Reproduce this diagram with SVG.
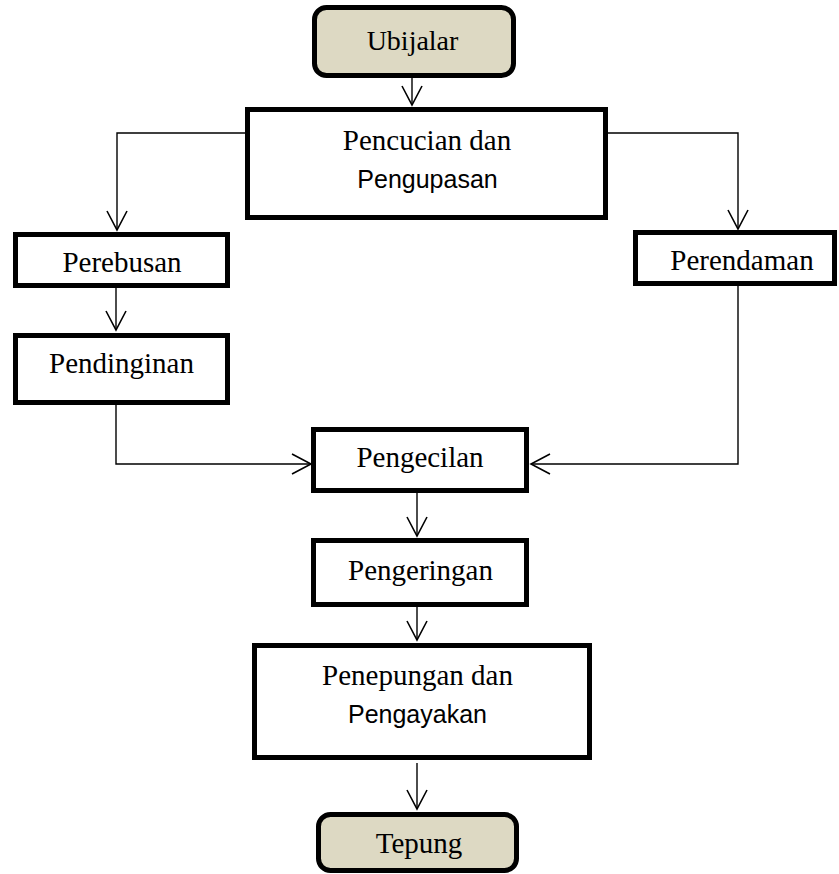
<svg xmlns="http://www.w3.org/2000/svg" width="839" height="874" viewBox="0 0 839 874">
<style>
.box{fill:#fff;stroke:#000;stroke-width:5}
.term{fill:#ddd9c3;stroke:#000;stroke-width:5}
.t{font-family:"Liberation Serif","Times New Roman",serif;font-size:29px;fill:#000;text-anchor:middle}
.s{font-family:"Liberation Sans",Arial,sans-serif;font-size:25px;fill:#000;text-anchor:middle}
.c{fill:none;stroke:#000;stroke-width:1.4}
</style>
<defs>
<marker id="ah" markerWidth="26" markerHeight="26" refX="20" refY="11" orient="auto" markerUnits="userSpaceOnUse">
<path d="M1,1 L20,11 L1,21" fill="none" stroke="#000" stroke-width="1.6"/>
</marker>
</defs>
<g id="connectors">
<path class="c" d="M412,77 V105" marker-end="url(#ah)"/>
<path class="c" d="M245,133 H117 V230" marker-end="url(#ah)"/>
<path class="c" d="M608,133 H738 V229" marker-end="url(#ah)"/>
<path class="c" d="M116,287 V330" marker-end="url(#ah)"/>
<path class="c" d="M116,380 V464 H311" marker-end="url(#ah)"/>
<path class="c" d="M738,285 V464 H531" marker-end="url(#ah)"/>
<path class="c" d="M417,493 V536" marker-end="url(#ah)"/>
<path class="c" d="M417,592 V640" marker-end="url(#ah)"/>
<path class="c" d="M417,763 V809" marker-end="url(#ah)"/>
</g>
<g id="ubijalar">
<rect class="term" x="314.5" y="7.5" width="199" height="68" rx="12"/>
<text class="t" x="412.5" y="50" style="font-size:28px">Ubijalar</text>
</g>
<g id="pencucian">
<rect class="box" x="247.5" y="109.5" width="358" height="108"/>
<text class="t" x="427" y="150">Pencucian dan</text>
<text class="s" x="427.5" y="188">Pengupasan</text>
</g>
<g id="perebusan">
<rect class="box" x="15.5" y="234.5" width="212" height="51"/>
<text class="t" x="122" y="272">Perebusan</text>
</g>
<g id="pendinginan">
<rect class="box" x="15.5" y="335.5" width="212" height="67"/>
<text class="t" x="121.5" y="373">Pendinginan</text>
</g>
<g id="perendaman">
<rect class="box" x="635.5" y="232.5" width="199" height="51"/>
<text class="t" x="742" y="270">Perendaman</text>
</g>
<g id="pengecilan">
<rect class="box" x="313.5" y="429.5" width="213" height="61"/>
<text class="t" x="420" y="467">Pengecilan</text>
</g>
<g id="pengeringan">
<rect class="box" x="313.5" y="540.5" width="213" height="64"/>
<text class="t" x="420.5" y="580">Pengeringan</text>
</g>
<g id="penepungan">
<rect class="box" x="254.5" y="645.5" width="335" height="112"/>
<text class="t" x="417.5" y="685">Penepungan dan</text>
<text class="s" x="417.5" y="723">Pengayakan</text>
</g>
<g id="tepung">
<rect class="term" x="318.5" y="814.5" width="198" height="56" rx="12"/>
<text class="t" x="419" y="853">Tepung</text>
</g>
</svg>
